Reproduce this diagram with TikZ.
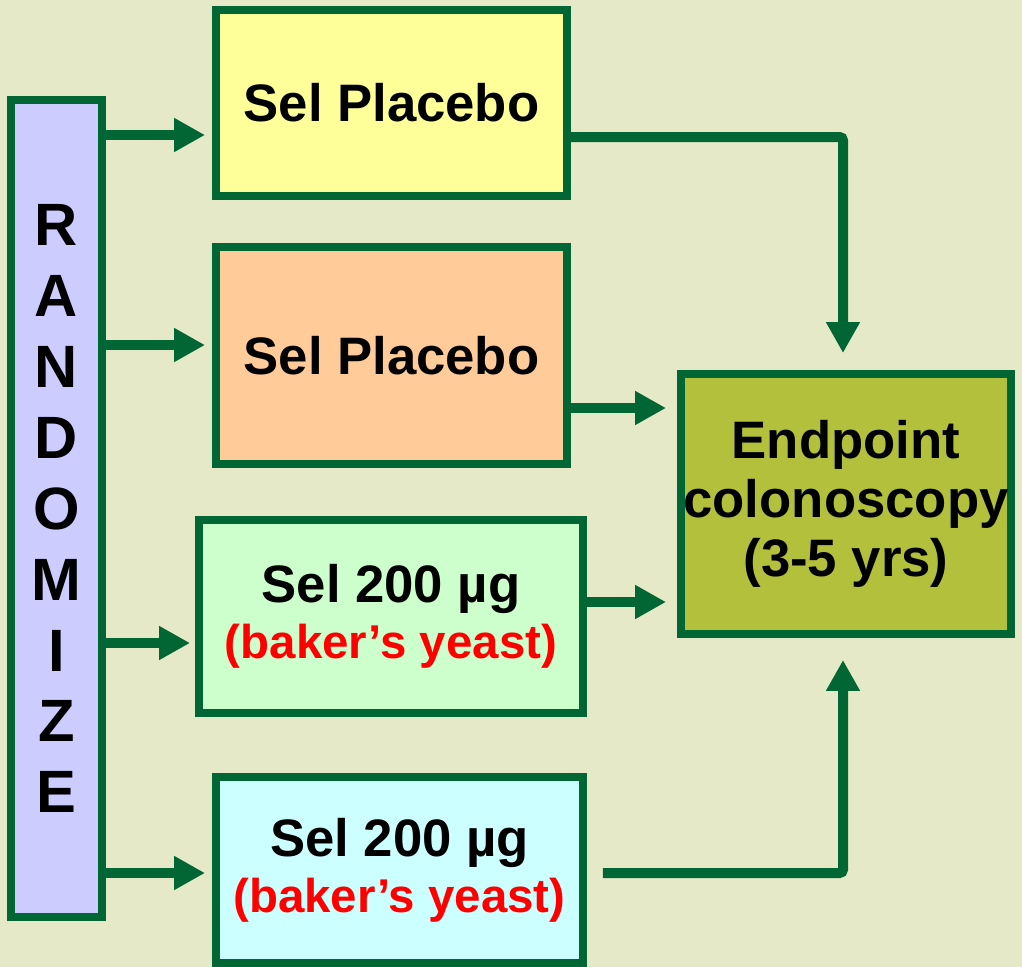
\documentclass[tikz,border=0pt]{standalone}
\usepackage{fontspec}
\setmainfont{Liberation Sans}
\usepackage{tikz}
\usetikzlibrary{positioning, calc, arrows.meta}
\definecolor{trialgreen}{RGB}{0,102,51}
\definecolor{bgcream}{RGB}{230,233,200}
\definecolor{randblue}{RGB}{204,204,255}
\definecolor{placeboyellow}{RGB}{255,255,153}
\definecolor{placeboorange}{RGB}{255,204,153}
\definecolor{selgreen}{RGB}{204,255,204}
\definecolor{selcyan}{RGB}{204,255,255}
\definecolor{endolive}{RGB}{178,192,60}
\newcommand{\yeast}{{\fontsize{27}{32}\selectfont\color{red}(baker’s yeast)}}

\begin{document}
\begin{tikzpicture}[x=0.02cm, y=-0.02cm, font=\fontsize{30}{32}\selectfont\bfseries,
    box/.style={draw=trialgreen, line width=0.16cm, align=center, inner sep=0pt},
    flow/.style={draw=trialgreen, line width=0.2cm, -{Triangle[length=0.62cm, width=0.64cm]}, rounded corners=2pt}]
    \fill[bgcream] (0,0) rectangle (1022,967);
    \useasboundingbox (0,0) rectangle (1022,967);

    \node[box, fill=randblue, minimum width=1.82cm, minimum height=16.34cm, font=\fontsize{34}{40.4}\selectfont\bfseries] (rand) at (56.5,508.5)
        {R\\A\\N\\D\\O\\M\\I\\Z\\E};
    \node[box, fill=placeboyellow, minimum width=7.02cm, minimum height=3.72cm] (sp1) at (391.5,103) {Sel Placebo};
    \node[box, fill=placeboorange, minimum width=7.02cm, minimum height=4.34cm] (sp2) at (391.5,355.5) {Sel Placebo};
    \node[box, fill=selgreen, minimum width=7.68cm, minimum height=3.86cm] (sel1) at (391,616.5)
        {Sel 200 µg\\ \yeast};
    \node[box, fill=selcyan, minimum width=7.34cm, minimum height=3.72cm] (sel2) at (399.5,870)
        {Sel 200 µg\\ \yeast};
    \node[box, fill=endolive, minimum width=6.6cm, minimum height=5.2cm, font=\fontsize{30}{33.5}\selectfont\bfseries] (endp) at (846,504)
        {Endpoint\\ colonoscopy\\ (3-5 yrs)};

    % randomisation arms
    \coordinate (in1) at ($(sp1.west)+(-7,32)$);
    \coordinate (in2) at ($(sp2.west)+(-7,-10.5)$);
    \coordinate (in3) at ($(sel1.west)+(-5,26.5)$);
    \coordinate (in4) at ($(sel2.west)+(-7,3)$);
    \draw[flow] (rand.east |- in1) -- (in1);
    \draw[flow] (rand.east |- in2) -- (in2);
    \draw[flow] (rand.east |- in3) -- (in3);
    \draw[flow] (rand.east |- in4) -- (in4);

    % to the endpoint
    \coordinate (e2) at ($(endp.west)+(-11,-96)$);
    \coordinate (e3) at ($(endp.west)+(-11,98)$);
    \draw[flow] ($(sp1.east)+(0,34)$) -| ($(endp.north)+(-3,-17)$);
    \draw[flow] (sp2.east |- e2) -- (e2);
    \draw[flow] (sel1.east |- e3) -- (e3);
    \draw[flow] ($(sel2.east)+(16,3)$) -| ($(endp.south)+(-3,22)$);
\end{tikzpicture}
\end{document}
